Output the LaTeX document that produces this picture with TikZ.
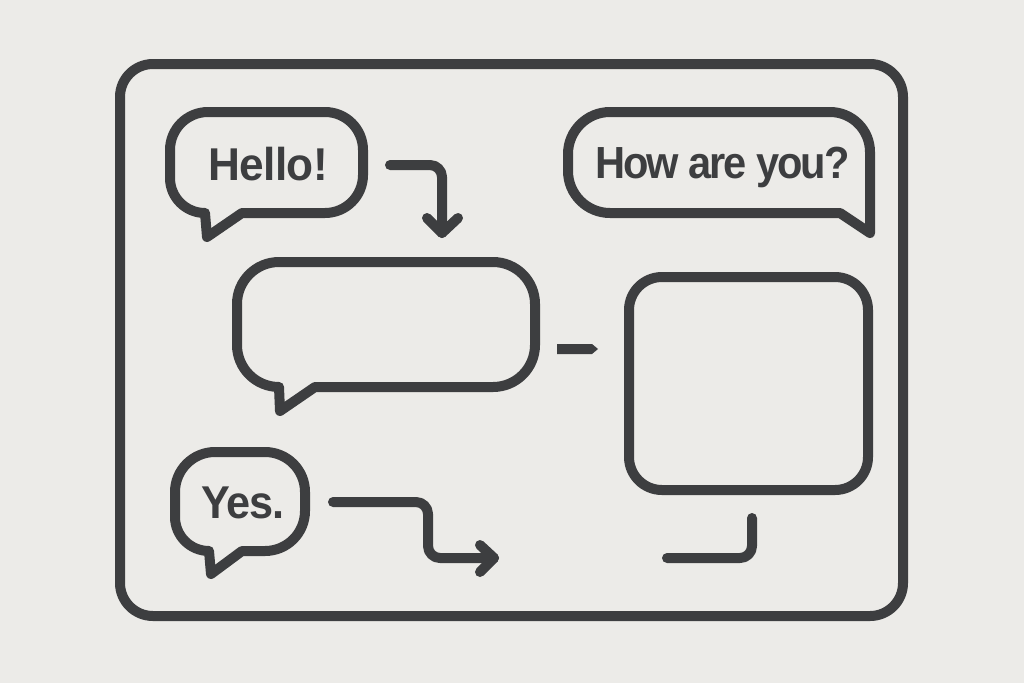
\documentclass[tikz,border=0pt]{standalone}
\usepackage{fontspec}
\usepackage{graphicx}
\setmainfont{Liberation Sans}
\usetikzlibrary{calc}
\definecolor{bg}{HTML}{ECEBE8}
\definecolor{ink}{HTML}{3D3E40}
\begin{document}
\begin{tikzpicture}[x=1pt,y=-1pt,
  line/.style={draw=ink,line width=10pt,line cap=round,line join=round},
  lbl/.style={text=ink,font=\fontsize{46}{46}\selectfont\bfseries,anchor=base,inner sep=0pt}]
\fill[bg] (0,0) rectangle (1024,683);
\useasboundingbox (0,0) rectangle (1024,683);
% outer frame
\draw[line,rounded corners=33] (120,64) rectangle (903,616);
% Hello bubble
\draw[line] (242,213) -- (325,213) arc[start angle=90,end angle=0,radius=38]
  -- (363,150) arc[start angle=0,end angle=-90,radius=38]
  -- (208,112) arc[start angle=-90,end angle=-180,radius=38]
  -- (170,178) arc[start angle=180,end angle=90,radius=35]
  -- (205,213) -- (207,237) -- cycle;
\node[lbl] (hello) at (268,180) {\scalebox{0.96}[1]{\addfontfeatures{LetterSpace=-1.5}Hello!}};
% How are you bubble
\draw[line] (840,213) -- (610,213) arc[start angle=90,end angle=180,radius=42]
  -- (568,154) arc[start angle=180,end angle=270,radius=42]
  -- (830,112) arc[start angle=270,end angle=360,radius=40]
  -- (870,233) -- cycle;
\node[lbl] (how) at (722.5,178) {\scalebox{0.925}[1]{\fontsize{45}{45}\selectfont\addfontfeatures{LetterSpace=-5}How are you?}};
% middle bubble
\draw[line] (315,387) -- (493,387) arc[start angle=90,end angle=0,radius=42]
  -- (535,304) arc[start angle=0,end angle=-90,radius=42]
  -- (279,262) arc[start angle=-90,end angle=-180,radius=42]
  -- (237,345) arc[start angle=180,end angle=90,radius=42]
  -- (279,387) -- (280,411) -- cycle;
% Yes bubble
\draw[line] (242,551) -- (265,551) arc[start angle=90,end angle=0,radius=40]
  -- (305,492) arc[start angle=0,end angle=-90,radius=40]
  -- (215,452) arc[start angle=-90,end angle=-180,radius=40]
  -- (175,517) arc[start angle=180,end angle=90,radius=34]
  -- (209,551) -- (211,574) -- cycle;
\node[lbl] (yes) at (243,518) {\scalebox{0.94}[1]{\addfontfeatures{LetterSpace=-3}Yes.}};
% right square
\draw[line,rounded corners=33] (629,277) rectangle (868,490);
% dash
\fill[ink] (557,344) -- (592,344) -- (598,349) -- (592,354) -- (557,354) -- cycle;
% connectors
\coordinate (h1) at (390,165);
\coordinate (h2) at (442,233);
\draw[line,rounded corners=12] (h1) -| (h2);
\draw[line] ($(h2)+(-15,-15)$) -- (h2) -- ($(h2)+(16,-15)$);
\coordinate (y1) at (333,502);
\coordinate (yc) at (428,558);
\coordinate (y2) at (494,558);
\draw[line,rounded corners=12] (y1) -| (yc) -- (y2);
\draw[line] ($(y2)+(-14,-13)$) -- (y2) -- ($(y2)+(-14,14)$);
\coordinate (b1) at (752,518);
\coordinate (b2) at (667,558);
\draw[line,rounded corners=12] (b1) |- (b2);
\end{tikzpicture}
\end{document}
